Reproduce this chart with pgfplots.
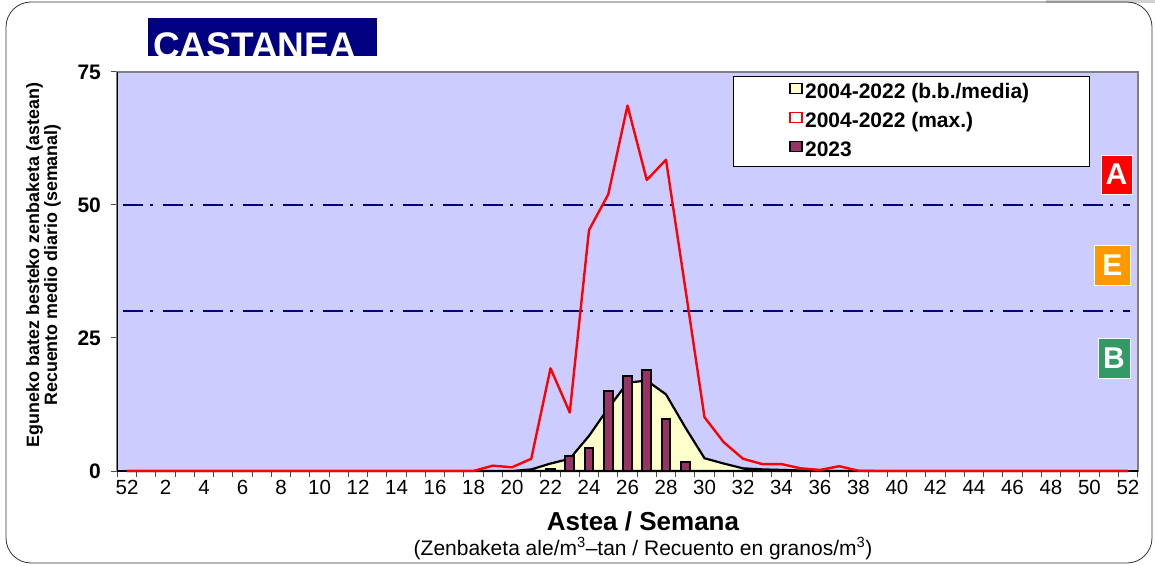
\documentclass[border=0pt]{standalone}
\usepackage{fontspec}
\setmainfont{Liberation Sans}
\usepackage{pgfplots}
\usepackage{pgfplotstable}
\pgfplotsset{compat=1.18}
\definecolor{bgblue}{HTML}{CCCCFF}
\definecolor{navyc}{HTML}{000080}
\definecolor{cyellow}{HTML}{FFFFCC}
\definecolor{plum}{HTML}{993366}
\definecolor{orangeE}{HTML}{FF9900}
\definecolor{greenB}{HTML}{339966}
\pgfplotstableread{
w mean max
0 0 0
1 0 0
2 0 0
3 0 0
4 0 0
5 0 0
6 0 0
7 0 0
8 0 0
9 0 0
10 0 0
11 0 0
12 0 0
13 0 0
14 0 0
15 0 0
16 0 0
17 0 0
18 0 0
19 0 1.0
20 0 0.7
21 0.3 2.3
22 1.4 19.3
23 2.3 11.0
24 6.6 45.3
25 11.8 52.0
26 16.6 68.7
27 17.0 54.7
28 14.4 58.5
29 8.2 34.4
30 2.4 10.1
31 1.4 5.4
32 0.5 2.3
33 0.3 1.3
34 0.2 1.3
35 0.1 0.5
36 0.05 0.2
37 0 0.9
38 0 0.05
39 0 0
40 0 0
41 0 0
42 0 0
43 0 0
44 0 0
45 0 0
46 0 0
47 0 0
48 0 0
49 0 0
50 0 0
51 0 0
52 0 0
}\histtable
\pgfplotstableread{
w y
22 0.3
23 2.8
24 4.3
25 15.0
26 17.9
27 18.9
28 9.8
29 1.6
}\yeartable
\begin{document}
\begin{tikzpicture}[x=1pt,y=1pt]
\useasboundingbox (0,0) rectangle (1155,565);
\fill[gray!35] (1046,562) rectangle (1155,565);
\draw[line width=0.8pt, black!80, rounded corners=25pt] (6,2) rectangle (1152,563);
% title
\begin{scope}
\clip (148,509) rectangle (377,547);
\fill[navyc] (148,509) rectangle (377,547);
\node[anchor=base west, inner sep=0pt, text=white, font=\bfseries\fontsize{37}{40}\selectfont] at (153,506.5) {CASTANEA};
\end{scope}
\begin{axis}[
  at={(117.4pt,94pt)}, anchor=south west,
  width=1020.2pt, height=399pt, scale only axis,
  xmin=-0.5, xmax=52.5, ymin=0, ymax=75,
  clip=false,
  axis background/.style={fill=bgblue},
  axis line style={draw=gray, line width=2pt},
  ytick={0,25,50,75},
  xtick={0,2,...,52},
  xticklabels={52,2,4,6,8,10,12,14,16,18,20,22,24,26,28,30,32,34,36,38,40,42,44,46,48,50,52},
  minor xtick={-0.5,0.5,...,52.5},
  major x tick style={draw=none},
  xtick pos=bottom, ytick pos=left,
  tick align=outside,
  major tick length=6pt, minor tick length=6pt,
  tick style={black!70, line width=1pt},
  /pgf/number format/assume math mode=true,
  xticklabel style={font=\fontsize{20.5}{24}\selectfont},
  yticklabel style={font=\bfseries\fontsize{21}{25}\selectfont, xshift=-7pt},
  legend style={at={(axis cs:34.39,73.7)}, anchor=north west, draw=none, fill=none,
    font=\bfseries\fontsize{21}{25}\selectfont, row sep=0pt, inner sep=0pt,
    nodes={inner xsep=2.5pt, inner ysep=4.5pt, text height=15pt, text depth=5pt}},
  legend cell align=left,
]
\draw[black, line width=1.8pt] (rel axis cs:0,1) -- (rel axis cs:0,0) -- (rel axis cs:1,0);
% legend box
\draw[fill=white, draw=black, line width=0.8pt] (axis cs:31.5,57.2) rectangle (axis cs:50,74.1);
\addlegendimage{legend image code/.code={\draw[fill=cyellow,draw=black,line width=1.4pt] (0pt,0pt) rectangle (12pt,10pt);}}
\addlegendentry{2004-2022 (b.b./media)}
\addlegendimage{legend image code/.code={\draw[fill=white,draw=red,line width=1.4pt] (0pt,0pt) rectangle (12pt,10pt);}}
\addlegendentry{2004-2022 (max.)}
\addlegendimage{legend image code/.code={\draw[fill=plum,draw=black,line width=1.4pt] (0pt,0pt) rectangle (12pt,10pt);}}
\addlegendentry{2023}
% thresholds
\addplot[forget plot, navyc, line width=2.2pt, dash pattern=on 20pt off 7pt on 3pt off 10pt] coordinates {(-0.2,50) (52.1,50)};
\addplot[forget plot, navyc, line width=2.2pt, dash pattern=on 20pt off 7pt on 3pt off 10pt] coordinates {(-0.2,30) (52.1,30)};
% mean area
\addplot[forget plot, fill=cyellow, draw=black, line width=2.2pt, line join=round] table[x=w, y=mean] {\histtable} \closedcycle;
% 2023 bars
\addplot[forget plot, ybar, bar width=0.45, fill=plum, draw=black, line width=2pt] table[x=w, y=y] {\yeartable};
% max line
\addplot[forget plot, red, line width=2.4pt, line join=round] table[x=w, y=max] {\histtable};
\end{axis}
% A E B boxes
\node[fill=red, draw=white, line width=0.6pt, minimum width=31pt, minimum height=39pt, inner sep=0pt, text=white, font=\bfseries\fontsize{30}{32}\selectfont] at (1116.5,390.5) {A};
\node[fill=orangeE, draw=white, line width=0.6pt, minimum width=36pt, minimum height=40pt, inner sep=0pt, text=white, font=\bfseries\fontsize{30}{32}\selectfont] at (1112.4,300) {E};
\node[fill=greenB, draw=white, line width=0.6pt, minimum width=32pt, minimum height=40pt, inner sep=0pt, text=white, font=\bfseries\fontsize{30}{32}\selectfont] at (1114,207) {B};
% axis labels
\node[rotate=90, align=center, font=\bfseries\fontsize{17.9}{14.8}\selectfont, inner sep=0pt] at (43.5,300) {Eguneko batez besteko zenbaketa (astean)\\Recuento medio diario (semanal)};
\node[anchor=base, inner sep=0pt, font=\bfseries\fontsize{26}{28}\selectfont] at (643,35) {Astea / Semana};
\node[anchor=base, inner sep=0pt, font=\fontsize{21}{24}\selectfont] at (643,10) {(Zenbaketa ale/m\textsuperscript{3}–tan / Recuento en granos/m\textsuperscript{3})};
\end{tikzpicture}
\end{document}
